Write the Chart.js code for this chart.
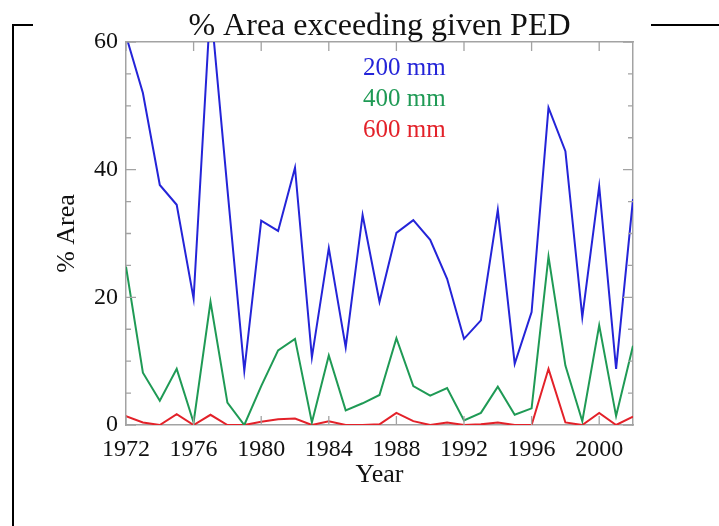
<!DOCTYPE html>
<html>
<head>
<meta charset="utf-8">
<script src="https://cdn.jsdelivr.net/npm/chart.js@4/dist/chart.umd.min.js"></script>
<style>
  html, body { margin: 0; padding: 0; background: #fff; }
  #wrap { width: 719px; height: 526px; position: relative; }
</style>
</head>
<body>
<div id="wrap"><canvas id="chart" width="719" height="526"></canvas></div>
<script>
// years 1972..2002
const years = [1972,1973,1974,1975,1976,1977,1978,1979,1980,1981,1982,1983,1984,1985,1986,1987,
  1988,1989,1990,1991,1992,1993,1994,1995,1996,1997,1998,1999,2000,2001,2002];

const area200 = [61, 52, 37.6, 34.5, 19.8, 66, 37, 8.5, 32.0, 30.4, 40.3, 10.6, 27.7, 12.2, 32.9, 19.3,
  30.1, 32.1, 29.0, 22.9, 13.5, 16.4, 33.7, 9.6, 17.7, 49.7, 42.9, 16.9, 37.4, 8.8, 35.4];
const area400 = [24.8, 8.2, 3.8, 8.8, 0.4, 19.3, 3.5, 0, 6.1, 11.7, 13.5, 0.4, 10.9, 2.3, 3.4, 4.7,
  13.6, 6.1, 4.6, 5.8, 0.7, 1.9, 6.0, 1.6, 2.6, 26.4, 9.3, 0.6, 15.6, 1.4, 12.4];
const area600 = [1.4, 0.4, 0, 1.7, 0, 1.6, 0, 0, 0.5, 0.9, 1.0, 0, 0.6, 0, 0, 0.1,
  1.9, 0.6, 0, 0.4, 0, 0.1, 0.4, 0, 0, 8.8, 0.4, 0, 1.9, 0, 1.3];

const seriesLabels = ['200 mm', '400 mm', '600 mm'];
const seriesColors = ['#2424d8', '#1f9a55', '#e32129'];

const xMajor = [1972,1976,1980,1984,1988,1992,1996,2000];
const yMajor = [0,20,40,60];
const yMinor = [5,10,15,25,30,35,45,50,55];

const serif = '"Liberation Serif", "DejaVu Serif", serif';
const axisGray = '#a3a3a3';

const toPts = vals => vals.map((v, i) => ({ x: years[i], y: v }));

// inward tick marks on all four sides, the inset legend, title and the outer frame
const decor = {
  id: 'decor',
  afterDraw(chart) {
    const { ctx, chartArea: a, scales: { x, y } } = chart;
    ctx.save();
    ctx.strokeStyle = axisGray;
    ctx.lineWidth = 1.3;
    ctx.beginPath();
    xMajor.forEach(v => {
      const px = x.getPixelForValue(v);
      ctx.moveTo(px, a.bottom); ctx.lineTo(px, a.bottom - 9);
      ctx.moveTo(px, a.top); ctx.lineTo(px, a.top + 9);
    });
    yMajor.forEach(v => {
      const py = y.getPixelForValue(v);
      ctx.moveTo(a.left, py); ctx.lineTo(a.left + 10, py);
      ctx.moveTo(a.right, py); ctx.lineTo(a.right - 10, py);
    });
    yMinor.forEach(v => {
      const py = y.getPixelForValue(v);
      ctx.moveTo(a.left, py); ctx.lineTo(a.left + 5, py);
      ctx.moveTo(a.right, py); ctx.lineTo(a.right - 5, py);
    });
    ctx.stroke();

    // legend as coloured text
    ctx.font = '25px ' + serif;
    ctx.textBaseline = 'middle';
    ctx.textAlign = 'left';
    chart.data.datasets.forEach((ds, i) => {
      ctx.fillStyle = ds.borderColor;
      ctx.fillText(ds.label, 363, 68 + i * 31);
    });

    // title
    ctx.fillStyle = '#111';
    ctx.font = '32px ' + serif;
    ctx.textAlign = 'center';
    ctx.textBaseline = 'alphabetic';
    ctx.fillText('% Area exceeding given PED', (a.left + a.right) / 2, 35);

    // frame around the figure, broken by the title
    ctx.strokeStyle = '#000';
    ctx.lineWidth = 2;
    ctx.beginPath();
    ctx.moveTo(33, 25); ctx.lineTo(13, 25); ctx.lineTo(13, 526);
    ctx.moveTo(651, 25); ctx.lineTo(719, 25);
    ctx.stroke();
    ctx.restore();
  }
};

new Chart(document.getElementById('chart'), {
  type: 'line',
  data: {
    datasets: [
      { label: seriesLabels[0], data: toPts(area200), borderColor: seriesColors[0] },
      { label: seriesLabels[1], data: toPts(area400), borderColor: seriesColors[1] },
      { label: seriesLabels[2], data: toPts(area600), borderColor: seriesColors[2] }
    ].map(d => Object.assign(d, { borderWidth: 2, pointRadius: 0, tension: 0, fill: false }))
  },
  options: {
    responsive: false,
    animation: false,
    devicePixelRatio: 1,
    layout: { padding: { left: 0, right: 86, top: 42, bottom: 0 } },
    plugins: { legend: { display: false }, tooltip: { enabled: false } },
    scales: {
      x: {
        type: 'linear',
        min: 1972, max: 2002,
        afterBuildTicks: s => { s.ticks = xMajor.map(v => ({ value: v })); },
        afterFit: s => { s.height = 101; },
        grid: { display: false, drawTicks: false },
        border: { display: true, color: axisGray, width: 1.5 },
        ticks: {
          color: '#111', font: { family: serif, size: 24 }, padding: 10,
          maxRotation: 0, autoSkip: false, callback: v => String(v)
        },
        title: { display: true, text: 'Year', color: '#111', font: { family: serif, size: 26 }, padding: { top: 0, bottom: 35 } }
      },
      y: {
        min: 0, max: 60,
        afterBuildTicks: s => { s.ticks = yMajor.map(v => ({ value: v })); },
        afterFit: s => { s.width = 126; },
        grid: { display: false, drawTicks: false },
        border: { display: true, color: axisGray, width: 1.5 },
        ticks: { color: '#111', font: { family: serif, size: 24 }, padding: 8 },
        title: { display: true, text: '% Area', color: '#111', font: { family: serif, size: 26 }, padding: { top: 52, bottom: 0 } }
      },
      x2: {
        type: 'linear', position: 'top', min: 1972, max: 2002,
        grid: { display: false, drawTicks: false },
        border: { display: true, color: axisGray, width: 1.5 },
        ticks: { display: false },
        afterFit: s => { s.height = 0; }
      },
      y2: {
        position: 'right', min: 0, max: 60,
        grid: { display: false, drawTicks: false },
        border: { display: true, color: axisGray, width: 1.5 },
        ticks: { display: false },
        afterFit: s => { s.width = 0; }
      }
    }
  },
  plugins: [decor]
});
</script>
</body>
</html>
